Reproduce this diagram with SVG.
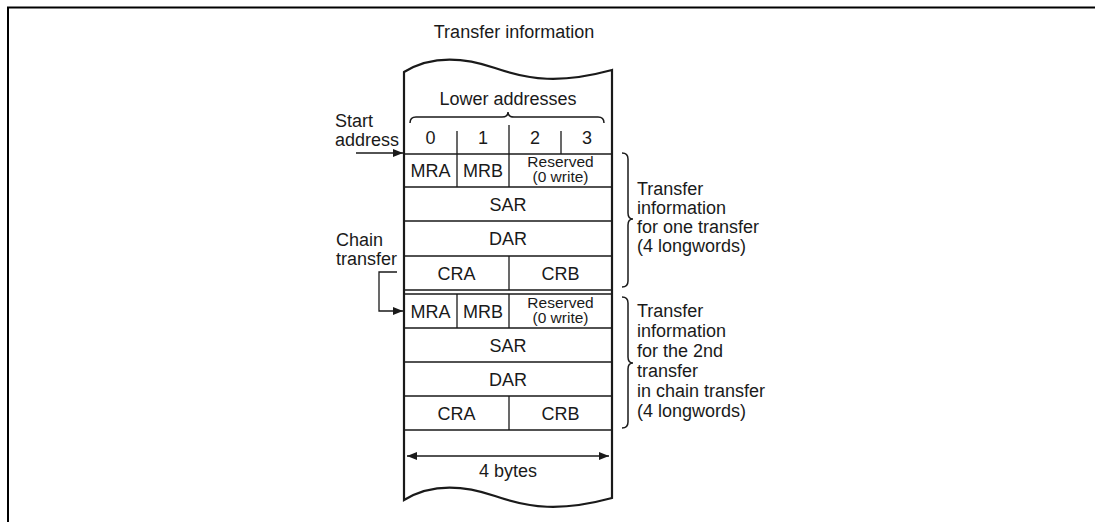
<svg xmlns="http://www.w3.org/2000/svg" width="1095" height="522" viewBox="0 0 1095 522">
<style>
text{font-family:"Liberation Sans",Arial,sans-serif;font-size:18px;fill:#1a1a1a}
.m{text-anchor:middle}
.s{font-size:15.5px}
.thin{stroke:#1a1a1a;stroke-width:1.3;fill:none}
.thick{stroke:#1a1a1a;stroke-width:2.2;fill:none}
.br{stroke:#1a1a1a;stroke-width:1.5;fill:none}
</style>
<defs>
<marker id="ah" viewBox="0 0 10 8" refX="10" refY="4" markerWidth="10" markerHeight="8" markerUnits="userSpaceOnUse" orient="auto-start-reverse">
<path d="M0,0 L10,4 L0,8 Z" fill="#1a1a1a"/>
</marker>
</defs>
<rect width="1095" height="522" fill="#fff"/>
<g id="frame">
<path d="M8,522 V7.5 H1095" stroke="#000" stroke-width="2" fill="none"/>
</g>
<g id="title"><text x="514" y="38" class="m">Transfer information</text></g>
<g id="memory">
<path class="thick" d="M404,72 C430,56 460,56 495,68 C530,80 560,84 612,70 L612,498 C560,512 530,508 495,496 C460,484 430,484 404,500 Z"/>
<text x="508" y="105" class="m">Lower addresses</text>
<path class="br" d="M410,123 Q410,117 416,117 L502,117 Q508,117 508,112 Q508,117 514,117 L598,117 Q604,117 604,123"/>
<text x="430.5" y="144" class="m">0</text>
<text x="483" y="144" class="m">1</text>
<text x="535" y="144" class="m">2</text>
<text x="587" y="144" class="m">3</text>
<path class="thin" d="M457,131 V154 M509,125 V154 M561,131 V154"/>
<path class="thin" d="M404,154 H612"/>
</g>
<g id="block1">
<path class="thin" d="M404,187 H612 M404,221 H612 M404,256 H612 M404,290 H612 M457,154 V187 M509,154 V187 M509,256 V290"/>
<text x="430.5" y="177" class="m">MRA</text>
<text x="483" y="177" class="m">MRB</text>
<text x="560.5" y="167" class="m s">Reserved</text>
<text x="560.5" y="182" class="m s">(0 write)</text>
<text x="508" y="211" class="m">SAR</text>
<text x="508" y="245" class="m">DAR</text>
<text x="456.5" y="280" class="m">CRA</text>
<text x="560.5" y="280" class="m">CRB</text>
</g>
<g id="block2">
<path class="thin" d="M404,294 H612 M404,328 H612 M404,362 H612 M404,396 H612 M404,430 H612 M457,294 V328 M509,294 V328 M509,396 V430"/>
<text x="430.5" y="318" class="m">MRA</text>
<text x="483" y="318" class="m">MRB</text>
<text x="560.5" y="308" class="m s">Reserved</text>
<text x="560.5" y="323" class="m s">(0 write)</text>
<text x="508" y="352" class="m">SAR</text>
<text x="508" y="386" class="m">DAR</text>
<text x="456.5" y="420" class="m">CRA</text>
<text x="560.5" y="420" class="m">CRB</text>
</g>
<g id="width">
<text x="508" y="477" class="m">4 bytes</text>
</g>
<g id="start-label">
<text x="335" y="127">Start</text>
<text x="335" y="146">address</text>
</g>
<g id="chain-label">
<text x="336" y="246">Chain</text>
<text x="336" y="265">transfer</text>
</g>
<g id="brace1">
<path class="br" d="M622,153 Q628,153 628,159 L628,213 Q628,219 633,219 Q628,219 628,225 L628,281 Q628,287 622,287"/>
<text x="637" y="195">Transfer</text>
<text x="637" y="214">information</text>
<text x="637" y="233">for one transfer</text>
<text x="637" y="252">(4 longwords)</text>
</g>
<g id="brace2">
<path class="br" d="M622,297 Q628,297 628,303 L628,357 Q628,363 633,363 Q628,363 628,369 L628,422 Q628,428 622,428"/>
<text x="637" y="317">Transfer</text>
<text x="637" y="337">information</text>
<text x="637" y="357">for the 2nd</text>
<text x="637" y="377">transfer</text>
<text x="637" y="397">in chain transfer</text>
<text x="637" y="417">(4 longwords)</text>
</g>
<g id="connectors">
<path class="thin" d="M356,153 H403" marker-end="url(#ah)"/>
<path class="thin" d="M397,272 H379 V311 H403" marker-end="url(#ah)"/>
<path class="thin" d="M407,456 H609" marker-start="url(#ah)" marker-end="url(#ah)"/>
</g>
</svg>
